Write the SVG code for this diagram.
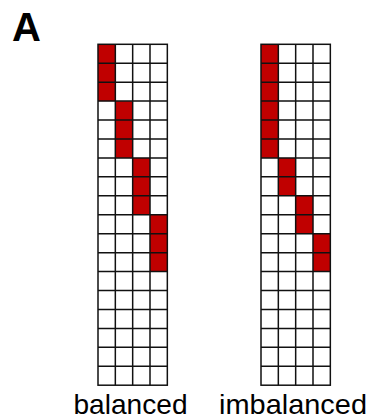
<svg xmlns="http://www.w3.org/2000/svg" width="371" height="419" viewBox="0 0 371 419">
<style>
.red{fill:#C00000}
.grid{fill:none;stroke:#111;stroke-width:1.5}
.lbl{font-family:"Liberation Sans",Arial,sans-serif;font-size:28px;fill:#000}
.ttl{font-family:"Liberation Sans",Arial,sans-serif;font-size:40px;font-weight:bold;fill:#000}
</style>
<defs>
<g id="gridLines" class="grid">
<rect x="0" y="0" width="69.33" height="340.9"/>
<path d="M17.33 0V340.9M34.67 0V340.9M52 0V340.9
M0 18.94H69.33M0 37.88H69.33M0 56.82H69.33M0 75.76H69.33M0 94.7H69.33M0 113.63H69.33M0 132.57H69.33M0 151.51H69.33M0 170.45H69.33M0 189.39H69.33M0 208.33H69.33M0 227.27H69.33M0 246.21H69.33M0 265.15H69.33M0 284.09H69.33M0 303.03H69.33M0 321.96H69.33"/>
</g>
</defs>
<rect width="371" height="419" fill="#fff"/>
<text class="ttl" x="12" y="41">A</text>
<g id="balanced" transform="translate(98,44.3)">
<rect class="red" x="0" y="0" width="17.33" height="56.82"/>
<rect class="red" x="17.33" y="56.82" width="17.33" height="56.82"/>
<rect class="red" x="34.67" y="113.63" width="17.33" height="56.82"/>
<rect class="red" x="52" y="170.45" width="17.33" height="56.82"/>
<use href="#gridLines"/>
</g>
<g id="imbalanced" transform="translate(261,44.3)">
<rect class="red" x="0" y="0" width="17.33" height="113.63"/>
<rect class="red" x="17.33" y="113.63" width="17.33" height="37.88"/>
<rect class="red" x="34.67" y="151.51" width="17.33" height="37.88"/>
<rect class="red" x="52" y="189.39" width="17.33" height="37.88"/>
<use href="#gridLines"/>
</g>
<text class="lbl" x="73.5" y="414" textLength="114" lengthAdjust="spacingAndGlyphs">balanced</text>
<text class="lbl" x="219" y="414" textLength="148" lengthAdjust="spacingAndGlyphs">imbalanced</text>
</svg>
